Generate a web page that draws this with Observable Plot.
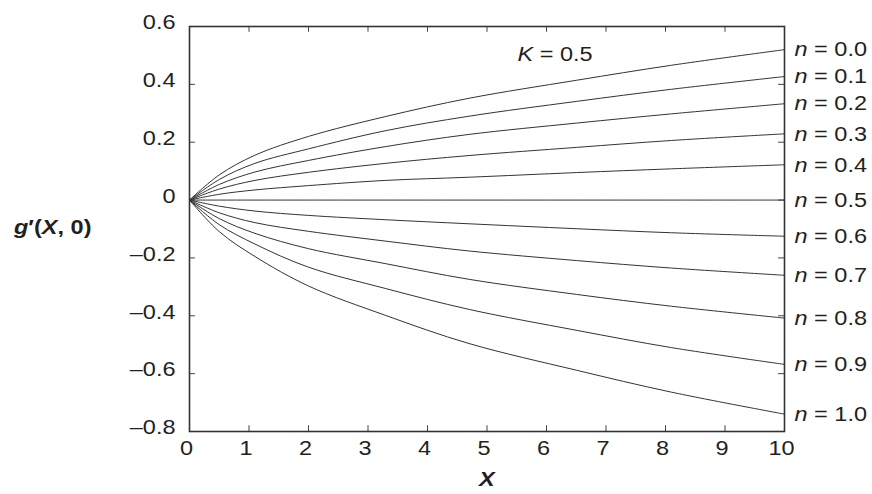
<!DOCTYPE html>
<html><head><meta charset="utf-8">
<script src="https://cdn.jsdelivr.net/npm/d3@7"></script>
<script src="https://cdn.jsdelivr.net/npm/@observablehq/plot@0.6"></script>
<style>body{margin:0;background:#fff}</style>
</head><body><div id="chart"></div>
<script>
// X positions where the curves were read
const xs = [0, 0.5, 1.1, 2, 3.3, 4.7, 6.5, 8.1, 10];
// n values (curve labels)
const nLabels = ["0.0","0.1","0.2","0.3","0.4","0.5","0.6","0.7","0.8","0.9","1.0"];
// g'(X,0) for each n
const g00 = [0, 0.087, 0.155, 0.220, 0.289, 0.352, 0.414, 0.466, 0.520];
const g01 = [0, 0.071, 0.127, 0.177, 0.240, 0.290, 0.341, 0.383, 0.427];
const g02 = [0, 0.054, 0.097, 0.137, 0.185, 0.227, 0.266, 0.298, 0.333];
const g03 = [0, 0.038, 0.068, 0.096, 0.127, 0.154, 0.182, 0.206, 0.229];
const g04 = [0, 0.020, 0.035, 0.050, 0.068, 0.079, 0.095, 0.108, 0.122];
const g05 = [0, 0, 0, 0, 0, 0, 0, 0, 0];
const g06 = [0, -0.021, -0.038, -0.053, -0.068, -0.082, -0.099, -0.113, -0.125];
const g07 = [0, -0.044, -0.078, -0.108, -0.142, -0.176, -0.209, -0.235, -0.260];
const g08 = [0, -0.064, -0.115, -0.168, -0.220, -0.274, -0.326, -0.367, -0.408];
const g09 = [0, -0.085, -0.152, -0.232, -0.306, -0.378, -0.450, -0.510, -0.568];
const g10 = [0, -0.109, -0.195, -0.297, -0.399, -0.496, -0.588, -0.664, -0.740];
const series = [g00, g01, g02, g03, g04, g05, g06, g07, g08, g09, g10];

const xTicks = [0,1,2,3,4,5,6,7,8,9,10];
const yTicks = [0.6,0.4,0.2,0,-0.2,-0.4,-0.6,-0.8];
const kLabel = "K = 0.5";
const xLabel = "X";
const yLabel = "g\u2032(X, 0)";

const rows = [];
series.forEach((s, i) => s.forEach((v, j) => rows.push({X: xs[j], g: v, n: nLabels[i]})));
const ends = series.map((s, i) => ({X: xs[xs.length - 1], g: s[s.length - 1], n: nLabels[i]}));

const fmtY = d => d === 0 ? "0" : (d < 0 ? "\u2013" : "") + Math.abs(d).toFixed(1);
const ink = "#231f20";

const chart = Plot.plot({
  width: 872, height: 494,
  marginLeft: 189, marginRight: 88, marginTop: 26, marginBottom: 63,
  x: {domain: [0, 10]},
  y: {domain: [-0.8, 0.6]},
  style: {fontFamily: "'Liberation Sans', Arial, sans-serif", fontSize: "21px", color: ink, background: "#fff"},
  marks: [
    Plot.axisY(yTicks, {tickSize: 0, tickPadding: 14, tickFormat: fmtY, label: null, dy: -4, fontSize: 21}),
    Plot.axisX(xTicks, {tickSize: 0, tickPadding: 9, label: null, dx: -3, fontSize: 21}),
    Plot.ruleY(yTicks, {x1: 0, x2: 0.1, stroke: "#444"}),
    Plot.ruleY(yTicks, {x1: 9.9, x2: 10, stroke: "#444"}),
    Plot.ruleX(xTicks, {y1: 0.6, y2: 0.58, stroke: "#444"}),
    Plot.ruleX(xTicks, {y1: -0.8, y2: -0.78, stroke: "#444"}),
    Plot.line(rows, {x: "X", y: "g", z: "n", stroke: "#333", strokeWidth: 1, curve: "catmull-rom"}),
    Plot.frame({stroke: "#333", strokeWidth: 1.6}),
    Plot.text(ends, {x: "X", y: "g", text: d => "n = " + d.n, textAnchor: "start", dx: 10, fill: ink, fontSize: 21}),
    Plot.text([kLabel], {text: d => d, frameAnchor: "top", lineAnchor: "middle", dx: 68, dy: 28, fill: ink, fontSize: 21}),
    Plot.text([xLabel], {text: d => d, frameAnchor: "bottom", lineAnchor: "middle", dy: 48, fontWeight: "bold", fontStyle: "italic", fill: ink, fontSize: 21}),
    Plot.text([yLabel], {text: d => d, frameAnchor: "left", lineAnchor: "middle", textAnchor: "end", dx: -98, dy: -2, fontWeight: "bold", fill: ink, fontSize: 21})
  ]
});
document.getElementById("chart").appendChild(chart);

const svgns = "http://www.w3.org/2000/svg";
function setParts(el, parts) {
  el.textContent = "";
  parts.forEach(([str, it]) => {
    const t = document.createElementNS(svgns, "tspan");
    if (it) t.setAttribute("font-style", "italic");
    t.textContent = str;
    el.appendChild(t);
  });
}
chart.querySelectorAll("text").forEach(t => {
  const s = t.textContent;
  if (s.startsWith("n = ")) setParts(t, [["n", true], [s.slice(1), false]]);
  else if (s === kLabel) setParts(t, [["K", true], [s.slice(1), false]]);
  else if (s === yLabel) setParts(t, [["g", true], ["\u2032(", false], ["X", true], [", 0)", false]]);
});
// widen glyphs horizontally to match the reference typeface
chart.querySelectorAll("text").forEach(t => {
  const b = t.getBBox();
  const a = getComputedStyle(t).textAnchor;
  const ax = a === "end" ? b.x + b.width : a === "middle" ? b.x + b.width / 2 : b.x;
  const prev = t.getAttribute("transform") || "";
  t.setAttribute("transform", `${prev} translate(${ax},0) scale(1.12,1) translate(${-ax},0)`);
});
</script></body></html>
